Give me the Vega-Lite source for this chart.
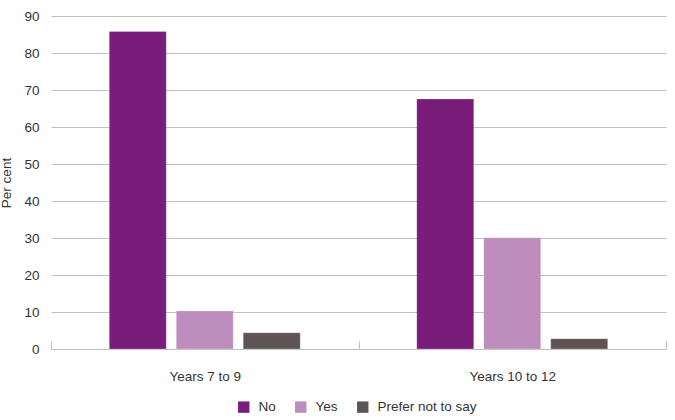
{
  "$schema": "https://vega.github.io/schema/vega-lite/v6.json",
  "width": 615,
  "height": 333,
  "autosize": "none",
  "padding": {"left": 51, "top": 16, "right": 9, "bottom": 71},
  "background": "white",
  "config": {
    "font": "Liberation Sans",
    "view": {"stroke": null},
    "axis": {"labelFont": "Liberation Sans", "titleFont": "Liberation Sans", "labelColor": "#333333", "titleColor": "#333333", "labelFontSize": 13.5, "titleFontSize": 13.5, "titleFontWeight": "normal"},
    "legend": {"labelFont": "Liberation Sans", "labelFontSize": 13.5, "labelColor": "#333333"}
  },
  "data": {
    "values": [
      {"group": "Years 7 to 9", "response": "No", "value": 85.8},
      {"group": "Years 7 to 9", "response": "Yes", "value": 10.3},
      {"group": "Years 7 to 9", "response": "Prefer not to say", "value": 4.4},
      {"group": "Years 10 to 12", "response": "No", "value": 67.6},
      {"group": "Years 10 to 12", "response": "Yes", "value": 30.1},
      {"group": "Years 10 to 12", "response": "Prefer not to say", "value": 2.8}
    ]
  },
  "mark": {"type": "bar", "stroke": "white", "strokeWidth": 0.5, "strokeOpacity": 0.5},
  "encoding": {
    "x": {
      "field": "group", "type": "nominal", "sort": ["Years 7 to 9", "Years 10 to 12"],
      "scale": {"paddingInner": 0, "paddingOuter": 0},
      "axis": {"title": null, "labelAngle": 0, "labelPadding": 28, "tickBand": "extent", "tickSize": -8, "tickColor": "#bfbfbf", "domainColor": "#bfbfbf"}
    },
    "xOffset": {
      "field": "response", "type": "nominal", "sort": ["No", "Yes", "Prefer not to say"],
      "scale": {"paddingInner": 0.149, "paddingOuter": 0.87}
    },
    "y": {
      "field": "value", "type": "quantitative",
      "scale": {"domain": [0, 90]},
      "axis": {"title": "Per cent", "values": [0,10,20,30,40,50,60,70,80,90], "domain": false, "ticks": false, "labelPadding": 12, "gridColor": "#c0c0c0", "titlePadding": 10}
    },
    "color": {
      "field": "response", "type": "nominal", "sort": ["No", "Yes", "Prefer not to say"],
      "scale": {"domain": ["No", "Yes", "Prefer not to say"], "range": ["#781e7a", "#bc8dbd", "#5f5455"]},
      "legend": {"title": null, "orient": "none", "legendX": 186, "legendY": 384, "direction": "horizontal", "symbolType": "square", "symbolSize": 130, "symbolStrokeWidth": 0, "columnPadding": 18, "labelOffset": 8}
    }
  }
}
